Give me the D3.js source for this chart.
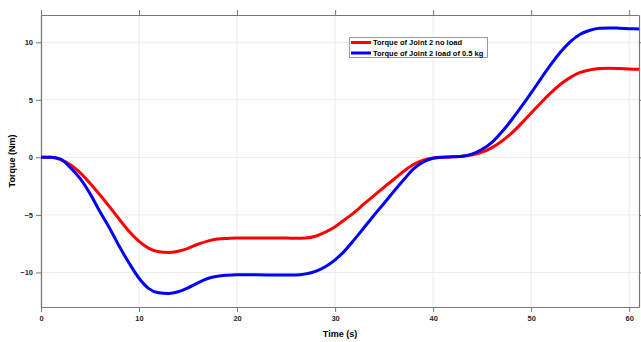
<!DOCTYPE html>
<html><head><meta charset="utf-8">
<script src="https://cdn.jsdelivr.net/npm/d3@7"></script>
<style>body{margin:0;background:#fff}svg{display:block}text{font-family:"Liberation Sans",Arial,sans-serif;font-weight:bold}</style>
</head><body><svg id="c" width="641" height="342"></svg>
<script>
const time = [0,1,2,3,4,5,6,7,8,9,10,11,12,13,14,15,16,17,18,19,20,22,24,26,27,28,29,30,31,32,33,34,35,36,37,38,39,40,41,42,43,44,45,46,47,48,49,50,51,52,53,54,55,56,57,58,59,60,61];
const noLoad = [0,0,-0.2,-0.65,-1.35,-2.25,-3.25,-4.3,-5.4,-6.45,-7.3,-7.9,-8.2,-8.26,-8.15,-7.9,-7.55,-7.28,-7.1,-7.04,-7.0,-7.0,-7.0,-7.03,-7.0,-6.85,-6.5,-6.02,-5.4,-4.75,-4.0,-3.3,-2.58,-1.9,-1.2,-0.62,-0.25,-0.05,0.02,0.05,0.1,0.22,0.45,0.85,1.4,2.1,2.95,3.85,4.75,5.6,6.35,6.95,7.38,7.6,7.72,7.75,7.72,7.68,7.65];
const load05 = [0,0,-0.15,-0.9,-1.85,-3.15,-4.7,-6.15,-7.75,-9.2,-10.5,-11.4,-11.77,-11.83,-11.68,-11.34,-10.9,-10.52,-10.32,-10.24,-10.2,-10.2,-10.22,-10.22,-10.12,-9.9,-9.5,-8.9,-8.1,-7.1,-6.05,-5.0,-3.98,-2.95,-1.95,-1.0,-0.4,-0.08,0.02,0.05,0.1,0.3,0.7,1.3,2.2,3.25,4.4,5.6,6.85,8.05,9.15,10.05,10.7,11.05,11.22,11.25,11.22,11.18,11.15];
const xTicks = [0,10,20,30,40,50,60];
const yTicks = [-10,-5,0,5,10];
const seriesNames = ["Torque of Joint 2 no load","Torque of Joint 2 load of 0.5 kg"];
const seriesColors = ["#ff0000","#0000ff"];

const svg = d3.select("#c");
const L=41,R=639,T=15,B=307;
const x = d3.scaleLinear().domain([0,61]).range([L,R]);
const y = d3.scaleLinear().domain([-13,12.37]).range([B,T]);
const axisCol="#777", txtCol="#262626";

// grid
svg.append("g").selectAll("line").data(xTicks).join("line")
  .attr("x1",d=>x(d)).attr("x2",d=>x(d)).attr("y1",T).attr("y2",B)
  .attr("stroke","#ebebeb").attr("stroke-width",1);
svg.append("g").selectAll("line").data(yTicks).join("line")
  .attr("y1",d=>y(d)).attr("y2",d=>y(d)).attr("x1",L).attr("x2",R)
  .attr("stroke","#ebebeb").attr("stroke-width",1);

function styleAxis(g, showText){
  g.select(".domain").attr("stroke",axisCol).attr("stroke-width",1.2);
  g.selectAll(".tick line").attr("stroke",axisCol).attr("stroke-width",1);
  g.selectAll(".tick text").attr("fill",txtCol).style("font-size","7.5px").style("font-weight","bold")
   .style("font-family","'Liberation Sans',Arial,sans-serif");
  if(!showText) g.selectAll(".tick text").remove();
}
svg.append("g").attr("transform",`translate(0,${B})`)
  .call(d3.axisBottom(x).tickValues(xTicks).tickSize(5).tickPadding(4).tickSizeOuter(0))
  .call(g=>styleAxis(g,true));
svg.append("g").attr("transform",`translate(0,${T})`)
  .call(d3.axisTop(x).tickValues(xTicks).tickSize(5).tickSizeOuter(0))
  .call(g=>styleAxis(g,false));
svg.append("g").attr("transform",`translate(${L},0)`)
  .call(d3.axisLeft(y).tickValues(yTicks).tickSize(5).tickPadding(3).tickSizeOuter(0))
  .call(g=>styleAxis(g,true));
svg.append("g").attr("transform",`translate(${R},0)`)
  .call(d3.axisRight(y).tickValues(yTicks).tickSize(5).tickSizeOuter(0))
  .call(g=>styleAxis(g,false));

const line = d3.line().x((d,i)=>x(time[i])).y(d=>y(d)).curve(d3.curveMonotoneX);
[noLoad,load05].forEach((s,k)=>{
  svg.append("path").attr("d",line(s)).attr("fill","none")
    .attr("stroke",seriesColors[k]).attr("stroke-width",3).attr("stroke-linejoin","round");
});

// axis labels
svg.append("text").attr("x",(L+R)/2).attr("y",337).attr("text-anchor","middle")
  .style("font-size","9px").attr("fill","#000").text("Time (s)");
svg.append("text").attr("transform",`translate(15,${(T+B)/2}) rotate(-90)`).attr("text-anchor","middle")
  .style("font-size","9px").attr("fill","#000").text("Torque (Nm)");

// legend
const lg = svg.append("g");
lg.append("rect").attr("x",349.5).attr("y",37.5).attr("width",138).attr("height",20)
  .attr("fill","#fff").attr("stroke","#999").attr("stroke-width",1);
seriesNames.forEach((n,k)=>{
  const yy = 42.5 + k*10.5;
  lg.append("line").attr("x1",351).attr("x2",371).attr("y1",yy).attr("y2",yy)
    .attr("stroke",seriesColors[k]).attr("stroke-width",3);
  lg.append("text").attr("x",373).attr("y",yy+2.7).style("font-size","7.5px").attr("fill","#000").text(n);
});
</script></body></html>
